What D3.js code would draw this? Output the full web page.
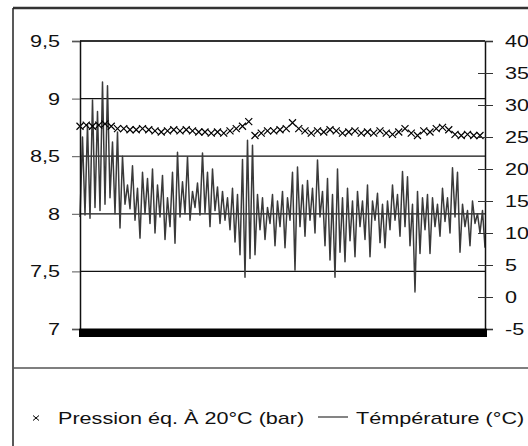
<!DOCTYPE html>
<html lang="fr">
<head>
  <meta charset="UTF-8">
  <title>Pression et température</title>
  <style>
    body { margin: 0; background: #fff; }
    svg { display: block; font-family: "Liberation Sans", Arial, sans-serif; }
    .axis text { font-size: 17px; fill: #111; }
    .legend text { font-size: 17px; fill: #111; }
  </style>
</head>
<body>
<svg width="528" height="446"></svg>

<script src="https://cdn.jsdelivr.net/npm/d3@7"></script>
<script>
  // temperature (°C), two readings a day: low then high
  const tempValues = [
    12.5, 25, 12.8, 27, 12.3, 30.8, 14.0, 29, 13.5, 33.6,
    14.5, 33, 15.5, 24.2, 13.0, 25.8, 10.8, 22, 14.5, 17.5,
    13.8, 20.5, 12.0, 17, 9.2, 19.5, 13.0, 18.5, 11.5, 20,
    10.0, 17.5, 12.5, 19, 9.0, 15.5, 11.0, 19.5, 8.4, 22.6,
    12.5, 18, 13.0, 21.9, 12.0, 16.5, 14.0, 17.8, 12.8, 22.5,
    13.2, 19.5, 11.0, 20, 13.5, 17.2, 11.5, 16.5, 12.0, 15.5,
    10.5, 17, 8.6, 16, 6.6, 21.5, 3.1, 24.5, 6.0, 23.7,
    6.6, 16, 10.5, 15.5, 9.0, 14, 11.5, 16, 8.0, 15,
    11.0, 16.5, 7.7, 15.5, 12.0, 19.5, 4.2, 20.3, 11.0, 17.5,
    9.5, 18.2, 12.0, 17, 10.0, 21.4, 12.5, 16.5, 8.0, 18.5,
    5.8, 16, 3.1, 20, 7.0, 15.5, 5.5, 17, 8.8, 15,
    6.3, 16.5, 11.0, 15, 9.0, 17.5, 6.3, 15, 12.0, 16.2,
    8.5, 14.5, 7.7, 15, 10.5, 17.5, 12.0, 16, 9.5, 19.6,
    11.0, 18.8, 8.0, 14.5, 0.8, 16.5, 6.8, 15.5, 10.5, 16,
    6.8, 15.5, 11.0, 14.5, 9.5, 17, 11.8, 15.5, 10.0, 20.2,
    12.5, 19.5, 7.0, 14.5, 11.0, 13.5, 8.0, 15, 11.5, 13,
    10.0, 13.5, 7.7
  ];
  const tempStep = 0.5;      // days between temperature readings

  // equivalent pressure at 20°C (bar)
  const pressValues = [
    8.76, 8.77, 8.76, 8.77, 8.78, 8.76, 8.74,
    8.74, 8.73, 8.73, 8.74, 8.73, 8.72, 8.71, 8.72, 8.73,
    8.72, 8.73, 8.72, 8.71, 8.71, 8.70, 8.71, 8.70,
    8.72, 8.74, 8.76, 8.80,
    8.68, 8.70, 8.72, 8.72, 8.73,
    8.74, 8.79, 8.74, 8.72,
    8.70, 8.72, 8.71, 8.73, 8.72, 8.70, 8.71, 8.72, 8.70, 8.71, 8.70, 8.72,
    8.70, 8.69, 8.71, 8.74, 8.70, 8.68, 8.72, 8.71, 8.74, 8.75, 8.73, 8.69, 8.68, 8.69, 8.68, 8.68
  ];
  const pressStep = 1.25;    // days between pressure readings

  const leftTicks = [7, 7.5, 8, 8.5, 9, 9.5];
  const rightTicks = [-5, 0, 5, 10, 15, 20, 25, 30, 35, 40];
  const seriesNames = ["Pression éq. À 20°C (bar)", "Témpérature (°C)"];

  const svg = d3.select("svg");
  const stretch = 1.27;  // glyphs in the original are a bit wide

  const plotL = 80, plotR = 485, plotT = 41, plotB = 329;

  const x = d3.scaleLinear()
    .domain([0, (tempValues.length - 1) * tempStep])
    .range([plotL, plotR]);
  const yL = d3.scaleLinear().domain([7, 9.5]).range([plotB, plotT]);
  const yR = d3.scaleLinear().domain([-5, 40]).range([plotB, plotT]);

  const temps = tempValues.map((v, i) => ({t: i * tempStep, v: v}));
  const press = pressValues.map((v, i) => ({t: i * pressStep, v: v}));

  // outer frame
  svg.append("line").attr("x1", 13).attr("x2", 528).attr("y1", 8).attr("y2", 8)
    .attr("stroke", "#333").attr("stroke-width", 2.5);
  svg.append("line").attr("x1", 13).attr("x2", 13).attr("y1", 8).attr("y2", 446)
    .attr("stroke", "#222").attr("stroke-width", 1.5);
  svg.append("line").attr("x1", 13).attr("x2", 528).attr("y1", 368).attr("y2", 368)
    .attr("stroke", "#555").attr("stroke-width", 1.5);

  // horizontal grid on left axis values
  svg.append("g")
    .selectAll("line")
    .data(leftTicks.filter(d => d > 7))
    .join("line")
    .attr("x1", plotL).attr("x2", plotR)
    .attr("y1", d => yL(d)).attr("y2", d => yL(d))
    .attr("stroke", d => d === 9.5 ? "#333" : "#111")
    .attr("stroke-width", d => d === 9.5 ? 2 : 1.2);

  // temperature line
  const line = d3.line()
    .x(d => x(d.t))
    .y(d => yR(d.v));

  svg.append("path")
    .datum(temps)
    .attr("fill", "none")
    .attr("stroke", "#3a3a3a")
    .attr("stroke-width", 1.5)
    .attr("stroke-linejoin", "round")
    .attr("d", line);

  // pressure crosses
  const cross = "M-3.5,-3.5L3.5,3.5M-3.5,3.5L3.5,-3.5";
  svg.append("g")
    .selectAll("path")
    .data(press)
    .join("path")
    .attr("transform", d => "translate(" + x(d.t) + "," + yL(d.v) + ")")
    .attr("d", cross)
    .attr("fill", "none")
    .attr("stroke", "#000")
    .attr("stroke-width", 1.2);

  // left axis
  const fmt = d => String(d).replace(".", ",");
  const gL = svg.append("g")
    .attr("class", "axis")
    .attr("transform", "translate(" + plotL + ",0)")
    .call(d3.axisLeft(yL).tickValues(leftTicks).tickFormat(fmt).tickSize(8).tickPadding(12));
  gL.select(".domain").attr("stroke", "#111").attr("stroke-width", 1.5);
  gL.selectAll(".tick line").attr("stroke", "#555");

  // right axis, ticks cross the line
  const gR = svg.append("g")
    .attr("class", "axis")
    .attr("transform", "translate(" + plotR + ",0)")
    .call(d3.axisRight(yR).tickValues(rightTicks).tickFormat(d => String(d))
      .tickSize(8).tickPadding(12));
  gR.select(".domain").attr("stroke", "#111").attr("stroke-width", 1.5);
  gR.selectAll(".tick line").attr("x1", -7).attr("x2", 8).attr("stroke", "#333");

  // x axis: one tick per reading, packed into a solid band
  const gX = svg.append("g")
    .attr("transform", "translate(0," + plotB + ")")
    .call(d3.axisBottom(x).tickValues(temps.map(d => d.t)).tickSize(8).tickFormat(""));
  gX.select(".domain").attr("stroke", "#000").attr("stroke-width", 2);
  gX.selectAll(".tick line").attr("stroke", "#000").attr("stroke-width", 3);

  svg.selectAll(".axis text").attr("font-family", null).attr("font-size", null);

  // legend
  const lg = svg.append("g").attr("class", "legend");
  lg.append("path")
    .attr("transform", "translate(36,418)")
    .attr("d", "M-3,-2.5L3,2.5M-3,2.5L3,-2.5")
    .attr("fill", "none").attr("stroke", "#000").attr("stroke-width", 1);
  lg.append("text").attr("x", 58).attr("y", 424).text(seriesNames[0]);
  lg.append("line").attr("x1", 318).attr("x2", 348).attr("y1", 417).attr("y2", 417)
    .attr("stroke", "#333").attr("stroke-width", 1.2);
  lg.append("text").attr("x", 356).attr("y", 424).text(seriesNames[1]);

  // widen glyphs like the original
  svg.selectAll("text").each(function () {
    const w = this.getComputedTextLength();
    d3.select(this).attr("textLength", w * stretch).attr("lengthAdjust", "spacingAndGlyphs");
  });
</script>
</body>
</html>
